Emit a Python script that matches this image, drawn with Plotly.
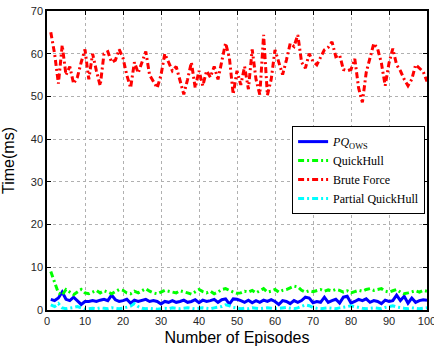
import plotly.graph_objects as go

episodes = list(range(1, 101))

pq_ows = [2.5, 2.2, 2.8, 4.2, 2.5, 2.2, 3.0, 2.2, 1.3, 2.0,
          2.0, 2.2, 2.0, 2.3, 2.5, 2.2, 3.5, 2.4, 2.0, 2.2,
          2.5, 1.6, 2.3, 2.0, 2.2, 2.5, 2.0, 2.2, 2.0, 1.4,
          2.0, 1.8, 2.2, 1.8, 2.0, 2.3, 1.8, 2.0, 2.4, 1.7,
          2.3, 2.0, 2.2, 2.5, 1.8, 2.4, 2.6, 1.4, 2.6, 2.5,
          2.2, 1.8, 2.3, 1.7, 2.2, 1.8, 2.3, 2.0, 2.4, 2.0,
          1.3, 2.2, 2.0, 1.5, 2.2, 1.8, 2.2, 3.0, 2.8, 1.7,
          2.0, 1.8, 3.0, 1.8, 2.2, 2.5, 1.6, 3.0, 3.2, 1.6,
          2.0, 2.5, 2.2, 2.6, 1.8, 2.2, 2.0, 1.5, 2.3, 2.0,
          2.2, 3.5, 2.2, 3.2, 1.6, 2.8, 1.8, 2.2, 2.4, 2.3]

quickhull = [9.0, 6.5, 4.0, 3.5, 4.8, 4.2, 3.6, 4.2, 4.8, 4.0,
             3.8, 4.2, 4.6, 4.0, 4.5, 4.2, 3.8, 4.3, 4.8, 4.6,
             4.0, 3.8, 4.4, 4.0, 4.6, 5.0, 4.4, 4.0, 3.8, 4.2,
             4.6, 4.4, 4.2, 4.0, 4.5, 4.3, 4.0, 3.7, 4.3, 4.8,
             4.3, 4.0, 4.4, 3.8, 4.2, 4.8, 5.0, 4.5, 4.2, 3.9,
             4.0, 4.4, 4.2, 4.6, 4.0, 4.5, 5.0, 4.2, 4.4, 4.8,
             4.2, 4.6, 4.8, 5.2, 5.6, 5.4, 4.6, 4.2, 4.5, 4.3,
             4.6, 4.8, 4.4, 4.7, 4.5, 4.8, 4.6, 4.2, 4.5, 4.0,
             4.3, 4.6, 4.4, 4.8, 5.0, 4.6, 4.8, 5.0, 4.4, 4.2,
             4.5, 4.8, 4.2, 3.8, 4.0, 4.3, 4.5, 4.2, 4.6, 4.4]

brute_force = [65.0, 60.0, 53.0, 62.0, 55.0, 57.0, 53.0, 54.5, 58.0, 61.0,
               54.0, 60.0, 56.0, 52.5, 60.0, 60.5, 58.0, 58.5, 61.0, 59.0,
               55.0, 52.0, 58.0, 55.5, 58.0, 60.5, 55.0, 53.5, 52.0, 55.0,
               60.0, 58.0, 56.0, 57.0, 54.0, 50.5, 54.0, 58.0, 52.0, 56.0,
               52.5, 56.0, 54.5, 57.0, 54.0, 58.0, 62.5, 59.0, 50.5, 56.0,
               52.7, 57.0, 51.7, 61.0, 54.0, 50.4, 64.4, 50.3, 54.0, 60.9,
               57.8, 55.1, 58.5, 62.4, 61.7, 64.4, 58.0, 56.6, 60.0, 58.2,
               57.4, 59.0, 60.9, 61.5, 62.8, 59.3, 59.7, 56.3, 56.0, 56.3,
               58.8, 52.0, 48.6, 55.6, 58.8, 62.4, 61.2, 57.8, 52.5, 57.8,
               61.2, 57.4, 56.0, 54.0, 52.5, 54.0, 57.4, 56.6, 55.8, 53.5]

partial_qh = [1.2, 0.8, 1.5, 0.5, 0.3, 0.4, 0.6, 0.8, 0.5, 0.2,
              0.3, 0.4, 0.3, 0.5, 0.4, 0.3, 0.5, 0.4, 0.3, 0.4,
              0.6, 0.9, 1.5, 0.8, 0.4, 0.3, 0.4, 0.3, 0.2, 0.3,
              0.4, 0.3, 0.5, 0.4, 0.3, 0.4, 0.5, 0.4, 0.3, 0.4,
              0.5, 0.4, 0.3, 0.5, 0.6, 0.8, 1.2, 1.0, 0.6, 0.4,
              0.3, 0.4, 0.3, 0.5, 0.4, 0.3, 0.4, 0.5, 0.4, 0.3,
              0.4, 0.5, 0.6, 0.4, 0.3, 0.5, 0.8, 1.2, 1.0, 0.6,
              0.4, 0.3, 0.4, 0.5, 0.4, 0.3, 0.5, 0.6, 0.8, 1.0,
              0.8, 0.5, 0.4, 0.3, 0.4, 0.5, 0.4, 0.3, 0.6, 0.8,
              1.0, 0.7, 0.5, 0.4, 0.3, 0.5, 0.4, 0.3, 0.4, 0.5]

x_ticks = [0, 10, 20, 30, 40, 50, 60, 70, 80, 90, 100]
y_ticks = [0, 10, 20, 30, 40, 50, 60, 70]

dd = "6px,3px,2px,3px"

fig = go.Figure()
fig.add_trace(go.Scatter(x=episodes, y=pq_ows, mode="lines", name="<i>PQ</i><sub>OWS</sub>",
                         line=dict(color="#0000ff", width=3)))
fig.add_trace(go.Scatter(x=episodes, y=quickhull, mode="lines", name="QuickHull",
                         line=dict(color="#00ff00", width=3, dash=dd)))
fig.add_trace(go.Scatter(x=episodes, y=brute_force, mode="lines", name="Brute Force",
                         line=dict(color="#ff0000", width=3, dash=dd)))
fig.add_trace(go.Scatter(x=episodes, y=partial_qh, mode="lines", name="Partial QuickHull",
                         line=dict(color="#00ffff", width=3, dash=dd)))

axis_common = dict(showline=True, linecolor="black", linewidth=1.5, mirror="ticks",
                   ticks="inside", ticklen=4, tickcolor="black",
                   showgrid=True, gridcolor="#b0b0b0", griddash="dot", gridwidth=1,
                   zeroline=False, ticklabeloverflow="allow", automargin=False,
                   tickfont=dict(family="Liberation Sans, Arial", size=11, color="#262626"))

fig.update_layout(
    width=434, height=346,
    margin=dict(l=47, r=7, t=11, b=36),
    paper_bgcolor="white", plot_bgcolor="white",
    xaxis=dict(range=[0, 100], tickvals=x_ticks,
               title=dict(text="Number of Episodes", font=dict(family="Liberation Sans, Arial", size=16, color="black")),
               **axis_common),
    yaxis=dict(range=[0, 70], tickvals=y_ticks,
               title=dict(text="Time(ms)", font=dict(family="Liberation Sans, Arial", size=16, color="black")),
               **axis_common),
    legend=dict(x=0.995, xanchor="right", y=0.615, yanchor="top",
                bgcolor="white", bordercolor="black", borderwidth=1,
                font=dict(family="Liberation Serif, Times New Roman", size=12, color="black"),
                tracegroupgap=0, itemwidth=30),
    showlegend=True,
)

fig.write_html("out.html")
